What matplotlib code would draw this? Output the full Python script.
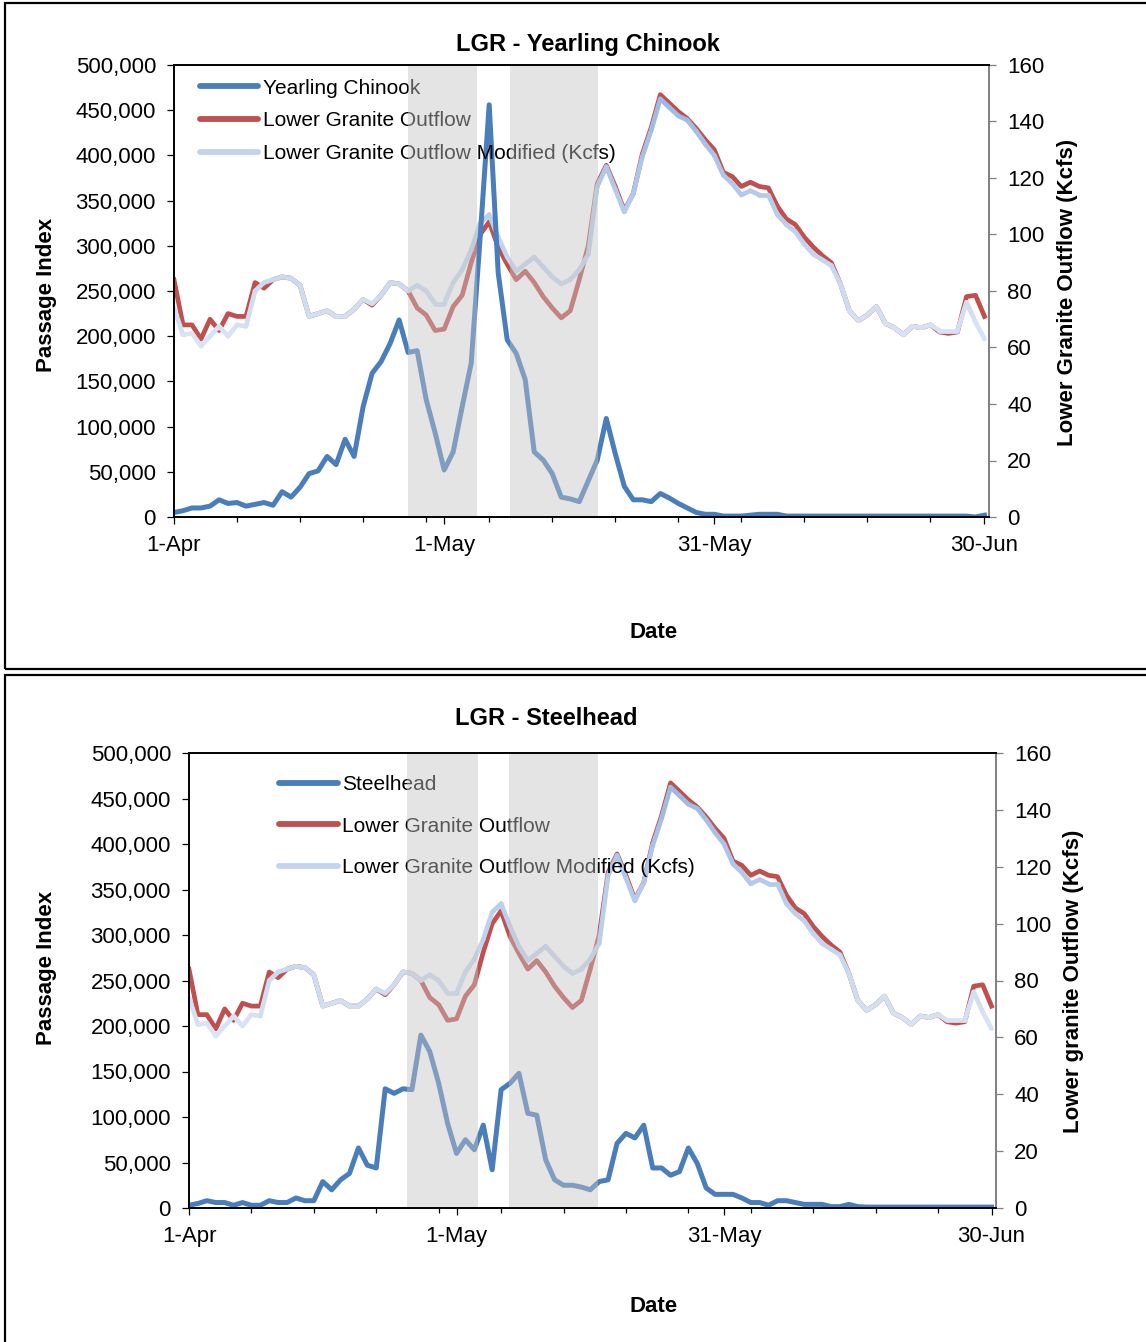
import numpy as np
import pandas as pd
import matplotlib
matplotlib.use('Agg')
import matplotlib.pyplot as plt
from matplotlib.collections import LineCollection
from matplotlib.lines import Line2D
from matplotlib.patches import Rectangle
from matplotlib.ticker import FuncFormatter, MultipleLocator, FixedLocator

plt.rcParams['font.family'] = ['Liberation Sans', 'DejaVu Sans']

# ---------------- data ----------------
dates = pd.date_range('2011-04-01', '2011-06-30', freq='D')
date_tick_days = [0, 30, 60, 90]
date_tick_labels = ['1-Apr', '1-May', '31-May', '30-Jun']

yearling_chinook = [5, 7, 10, 10, 12, 19, 15, 16, 12, 14,
                    16, 13, 28, 22, 33, 48, 51, 67, 58, 86,
                    67, 122, 159, 172, 192, 218, 182, 184, 130, 93,
                    52, 72, 122, 170, 310, 456, 270, 196, 181, 152,
                    72, 63, 48, 22, 20, 17, 40, 63, 109, 70,
                    34, 19, 19, 17, 26, 21, 15, 10, 5, 3,
                    3, 1, 1, 1, 2, 3, 3, 3, 1, 1,
                    1, 1, 1, 1, 1, 1, 1, 1, 1, 1,
                    1, 1, 1, 1, 1, 1, 1, 1, 1, 0, 2]

steelhead = [3, 5, 8, 6, 6, 3, 6, 3, 3, 8,
             6, 6, 11, 8, 8, 29, 20, 31, 38, 66,
             47, 44, 131, 126, 131, 130, 190, 172, 137, 93,
             60, 75, 64, 91, 42, 130, 137, 148, 104, 102,
             53, 31, 25, 25, 23, 20, 29, 31, 71, 82,
             77, 91, 44, 44, 36, 40, 66, 49, 22, 15,
             15, 15, 11, 6, 6, 3, 8, 8, 6, 4,
             4, 4, 1.5, 1.5, 4, 1.5, 1, 1, 1, 1,
             1, 1, 1, 1, 1, 1, 1, 1, 1, 1, 1]

lgr_outflow = [84, 68, 68, 63, 70, 66, 72, 71, 71, 83,
               81, 84, 85, 84.5, 82, 71, 72, 73, 71, 71,
               73.5, 77, 75, 78.5, 83, 82.5, 80, 74, 71.5, 66,
               66.5, 74.5, 78.5, 90, 100, 104.5, 95.5, 89.5, 84, 87,
               83, 78, 74, 70.5, 73, 84, 96, 118, 124.5, 117,
               108.5, 114.5, 128.5, 138, 149.5, 146.5, 143.5, 141, 137.5, 133.5,
               130, 122, 120.5, 117, 118.5, 117, 116.5, 110, 105.5, 103.5,
               99, 95.5, 92.5, 90, 82.5, 73, 69.5, 71.5, 74.5, 68.5,
               67, 64.5, 67.5, 67, 68, 65.5, 65, 65.5, 78, 78.5, 71]

lgr_outflow_mod = [74, 64.5, 65, 60.5, 64, 67.5, 64, 68, 67.5, 80,
                   83, 84, 85, 84.5, 82, 71, 72, 73, 71, 71,
                   73.5, 77, 75.5, 78.5, 83, 82.5, 80, 82, 80, 75.5,
                   75.5, 83, 87.5, 94.5, 104, 107, 99, 92, 87, 89.5,
                   92, 88.5, 85, 82.5, 84, 87.5, 93, 117, 124, 116,
                   108, 114.5, 127.5, 137, 148, 145, 142, 140.5, 136.5, 132,
                   128, 121, 118, 114, 115.5, 114, 114, 107, 103.5, 101,
                   96.5, 93, 91, 89, 82.5, 73, 69.5, 71.5, 74.5, 68.5,
                   67, 64.5, 67.5, 67, 68, 66, 66, 66, 76, 69, 63]

# ---------------- styling ----------------
BLUE = '#4a7ebb'
RED = '#c0504d'
LIGHT_LOW = np.array([0.86, 0.90, 0.96])
LIGHT_HIGH = np.array([0.60, 0.72, 0.89])
LIGHT_LEG = '#c3d4ee'

W, H = 1146, 1342
fig = plt.figure(figsize=(W / 100, H / 100), dpi=100)


def fx(px):
    return px / W


def fy(py):
    return 1 - py / H


def gradient_line(ax, x, y, lw):
    pts = np.column_stack([x, y])
    segs = np.stack([pts[:-1], pts[1:]], axis=1)
    mid = (np.asarray(y[:-1]) + np.asarray(y[1:])) / 2
    t = np.clip((mid - 60) / 90, 0, 1)[:, None]
    cols = LIGHT_LOW * (1 - t) + LIGHT_HIGH * t
    lc = LineCollection(segs, colors=cols, linewidths=lw, capstyle='round', zorder=3)
    ax.add_collection(lc)


def panel(box, title, fish_name, fish_vals, right_label, shades, leg_anchor, leg_spacing,
          title_xy, date_xy, left_xy, right_xy):
    x0, y0, x1, y1 = box
    ax1 = fig.add_axes([fx(x0), fy(y1), fx(x1) - fx(x0), fy(y0) - fy(y1)])
    ax2 = ax1.twinx()
    ax1.set_zorder(ax2.get_zorder() + 1)
    ax1.patch.set_visible(False)

    x = np.arange(len(dates))
    # flows on secondary axis
    ax2.plot(x, lgr_outflow, color=RED, lw=3.4, solid_joinstyle='round', zorder=2)
    gradient_line(ax2, x, lgr_outflow_mod, 3.4)
    # fish on primary axis
    ax1.plot(x, np.array(fish_vals) * 1000, color=BLUE, lw=3.6, solid_joinstyle='round', zorder=3)

    ax1.set_xlim(0, 90.5)
    ax1.set_ylim(0, 500000)
    ax2.set_ylim(0, 160)

    for s0, s1 in shades:
        ax1.axvspan(s0, s1, ymin=0.0, ymax=0.997, color=(0.77, 0.77, 0.77), alpha=0.45, lw=0, zorder=10)

    # axes styling
    ax1.yaxis.set_major_locator(MultipleLocator(50000))
    ax1.yaxis.set_major_formatter(FuncFormatter(lambda v, p: f'{int(v):,}'))
    ax2.yaxis.set_major_locator(MultipleLocator(20))
    ax1.xaxis.set_major_locator(FixedLocator(date_tick_days))
    ax1.set_xticklabels(date_tick_labels)
    ax1.xaxis.set_minor_locator(MultipleLocator(7))

    ax1.tick_params(axis='y', direction='out', length=5, width=0.9, labelsize=16, pad=8, colors='black')
    ax1.tick_params(axis='x', which='major', direction='out', length=5, width=0.9, labelsize=16, pad=8)
    ax1.tick_params(axis='x', which='minor', direction='out', length=3.5, width=0.9)
    ax2.tick_params(axis='y', direction='out', length=5, width=0.9, labelsize=16, pad=8,
                    color='#808080', labelcolor='black')

    for s in ['left', 'bottom', 'top']:
        ax1.spines[s].set_linewidth(1.4)
        ax1.spines[s].set_color('black')
        ax1.spines[s].set_zorder(12)
    ax1.spines['right'].set_visible(False)
    for s in ['left', 'bottom', 'top']:
        ax2.spines[s].set_visible(False)
    ax2.spines['right'].set_color('#808080')
    ax2.spines['right'].set_linewidth(1.4)

    handles = [Line2D([], [], color=BLUE, lw=4.2, solid_capstyle='round'),
               Line2D([], [], color=RED, lw=4.2, solid_capstyle='round'),
               Line2D([], [], color=LIGHT_LEG, lw=4.2, solid_capstyle='round')]
    labels = [fish_name, 'Lower Granite Outflow', 'Lower Granite Outflow Modified (Kcfs)']
    leg = ax1.legend(handles, labels, loc='upper left', bbox_to_anchor=leg_anchor, frameon=False,
                     fontsize=15, handlelength=2.8, handletextpad=0.2, labelspacing=leg_spacing,
                     borderaxespad=0, borderpad=0)
    leg.set_zorder(5)

    fig.text(fx(title_xy[0]), fy(title_xy[1]), title, ha='center', va='center',
             fontsize=17, fontweight='bold')
    fig.text(fx(date_xy[0]), fy(date_xy[1]), 'Date', ha='center', va='center',
             fontsize=16, fontweight='bold')
    fig.text(fx(left_xy[0]), fy(left_xy[1]), 'Passage Index', ha='center', va='center',
             fontsize=16, fontweight='bold', rotation=90)
    fig.text(fx(right_xy[0]), fy(right_xy[1]), right_label, ha='center', va='center',
             fontsize=16, fontweight='bold', rotation=90)


# top panel
panel((174, 65, 989, 517), 'LGR - Yearling Chinook', 'Yearling Chinook', yearling_chinook,
      'Lower Granite Outflow (Kcfs)', [(26.0, 33.7), (37.3, 47.1)], (0.032, 0.97), 0.66,
      (588, 45), (654, 633), (47, 295), (1068, 292))

# bottom panel
panel((189, 753, 996, 1208), 'LGR - Steelhead', 'Steelhead', steelhead,
      'Lower granite Outflow (Kcfs)', [(24.4, 32.4), (35.9, 45.9)], (0.112, 0.951), 1.07,
      (546, 718), (654, 1307), (47, 968), (1073, 981))

# panel borders
fig.patches.append(Rectangle((fx(5), fy(669)), fx(1160) - fx(5), fy(3) - fy(669),
                             transform=fig.transFigure, fill=False, ec='black', lw=1.6))
fig.patches.append(Rectangle((fx(5), fy(1360)), fx(1160) - fx(5), fy(675) - fy(1360),
                             transform=fig.transFigure, fill=False, ec='black', lw=1.6))

fig.savefig('out.png', dpi=100, facecolor='white')
